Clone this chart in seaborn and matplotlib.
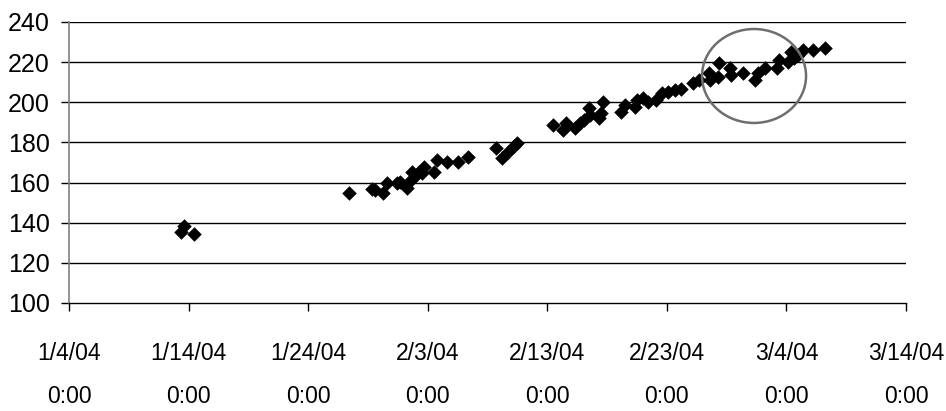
import matplotlib
matplotlib.use("Agg")
import matplotlib.pyplot as plt
import matplotlib.dates as mdates
from matplotlib.patches import Ellipse
import pandas as pd
import seaborn as sns

# days after 1/4/04 0:00, and the measured value
day_offset = [9.35, 9.6, 10.45,
              23.4,
              25.35, 25.6, 26.3, 26.6, 27.4, 27.7, 28.3, 28.6, 28.7, 29.0,
              29.3, 29.5, 29.7, 30.5, 30.8, 31.6, 32.5, 33.4,
              35.7, 36.2, 36.7, 37.2, 37.5,
              40.5, 41.3, 41.6, 42.3, 42.7, 43.1, 43.5, 43.6, 44.3, 44.5,
              44.7, 46.2, 46.5, 47.3, 47.5, 48.0, 48.4, 49.1, 49.6,
              50.1, 50.7, 51.2, 52.2, 52.7, 53.5, 53.6, 54.4, 54.3, 55.3,
              55.4, 56.4, 57.4, 57.6, 58.2, 59.2, 59.4, 60.1, 60.4, 60.6,
              61.0, 61.4, 62.2, 63.2]
value = [135.5, 138.5, 134.5,
         154.6,
         156.6, 156.3, 155.0, 159.6, 159.6, 160.4, 157.1, 161.3, 165.4, 163.8,
         165.4, 164.6, 167.9, 165.4, 171.2, 170.4, 170.4, 172.9,
         177.1, 172.1, 175.4, 178.0, 179.6,
         188.7, 186.2, 189.5, 187.0, 189.5, 191.2, 197.0, 193.7, 192.0, 194.5,
         200.3, 195.3, 198.6, 197.8, 201.1, 202.0, 200.3, 201.1, 204.5,
         205.3, 206.1, 206.5, 209.5, 211.1, 214.4, 211.1, 219.4, 212.7, 216.9,
         213.6, 214.4, 211.1, 214.4, 216.9, 216.9, 221.1, 220.2, 225.2, 221.9,
         223.6, 226.0, 226.0, 226.9]

tick_dates = ["2004-01-04", "2004-01-14", "2004-01-24", "2004-02-03",
              "2004-02-13", "2004-02-23", "2004-03-04", "2004-03-14"]
tick_labels = ["1/4/04\n0:00", "1/14/04\n0:00", "1/24/04\n0:00", "2/3/04\n0:00",
               "2/13/04\n0:00", "2/23/04\n0:00", "3/4/04\n0:00", "3/14/04\n0:00"]

# highlighted region (centre date, centre value, half width in days, half height)
circle_center = ("2004-03-01 07:00", 213.1)
circle_half = (4.35, 23.4)

sns.set_theme(style="ticks")
plt.rcParams['font.family'] = ['Liberation Sans Narrow', 'Liberation Sans', 'DejaVu Sans']

start = pd.Timestamp("2004-01-04")
df = pd.DataFrame({
    "time": start + pd.to_timedelta(day_offset, unit="D"),
    "value": value,
})

fig = plt.figure(figsize=(9.46, 4.11), dpi=100)
ax = fig.add_axes([0.0729, 0.2628, 0.8848, 0.6837])

sns.scatterplot(data=df, x="time", y="value", ax=ax, marker="D", s=55,
                color="black", edgecolor="black", linewidth=0, zorder=3)

ax.set_ylim(100, 240)
ax.set_yticks(range(100, 241, 20))
ax.set_xlim(pd.Timestamp(tick_dates[0]), pd.Timestamp(tick_dates[-1]))
ax.set_xticks(pd.to_datetime(tick_dates))
ax.set_xticklabels(tick_labels, linespacing=2.1)

for yv in range(120, 241, 20):
    ax.axhline(yv, color="black", lw=1, zorder=1)

ax.set_xlabel("")
ax.set_ylabel("")
for side in ["top", "right"]:
    ax.spines[side].set_visible(False)
ax.spines["left"].set_color("#808080")
ax.spines["left"].set_linewidth(1.2)
ax.spines["bottom"].set_color("black")
ax.spines["bottom"].set_linewidth(1)

ax.tick_params(axis="y", direction="out", length=6, width=1, pad=8,
               labelsize=18, colors="black")
ax.tick_params(axis="x", direction="out", length=6, width=1, pad=22,
               labelsize=16.5, colors="black")

cx = mdates.date2num(pd.Timestamp(circle_center[0]))
ell = Ellipse((cx, circle_center[1]), width=2 * circle_half[0],
              height=2 * circle_half[1], fill=False, edgecolor="#6e6e6e",
              lw=1.8, zorder=4)
ax.add_patch(ell)

fig.savefig("out.png", dpi=100)
